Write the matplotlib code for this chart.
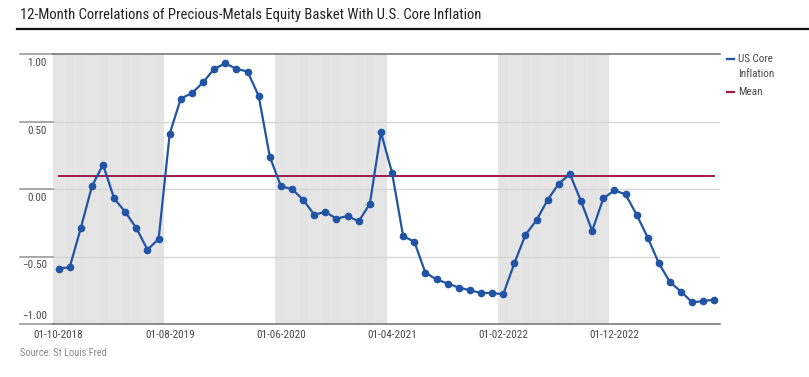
"""12-month correlations of precious-metals equity basket with US core inflation."""

import matplotlib

matplotlib.use("Agg")
import matplotlib.pyplot as plt
from matplotlib import font_manager
from matplotlib.lines import Line2D
import numpy as np

installed = {f.name for f in font_manager.fontManager.ttflist}
FONT = [f for f in ["Liberation Sans Narrow", "DejaVu Sans Condensed", "Roboto Condensed", "DejaVu Sans"]
        if f in installed] or ["DejaVu Sans"]
plt.rcParams["font.family"] = FONT
COND = "condensed" if FONT[0] == "DejaVu Sans" else "normal"

# monthly observations, Oct 2018 .. Sep 2023
corr_values = [
    -0.59, -0.58, -0.29, 0.02, 0.18, -0.07, -0.17, -0.29, -0.45, -0.37,
    0.41, 0.67, 0.71, 0.79, 0.89, 0.93, 0.89, 0.87, 0.69, 0.24,
    0.02, 0.00, -0.08, -0.19, -0.17, -0.22, -0.20, -0.24, -0.11, 0.42,
    0.12, -0.35, -0.39, -0.62, -0.67, -0.70, -0.73, -0.75, -0.77, -0.77,
    -0.78, -0.55, -0.34, -0.23, -0.08, 0.04, 0.11, -0.09, -0.31, -0.07,
    -0.01, -0.04, -0.19, -0.36, -0.55, -0.69, -0.76, -0.84, -0.83, -0.82,
]
mean_value = 0.10
tick_labels = ["01-10-2018", "01-08-2019", "01-06-2020", "01-04-2021", "01-02-2022", "01-12-2022"]
tick_step = 10
y_ticks = [1.0, 0.5, 0.0, -0.5, -1.0]
y_tick_labels = ["1.00", "0.50", "0.00", "\u22120.50", "\u22121.00"]

BLUE = "#2154a4"
RED = "#a01c48"
SHADE = "#e4e4e4"
TEXT = "#4a4a4a"

fig = plt.figure(figsize=(8.09, 3.77), dpi=100)
ax = fig.add_axes([53 / 809, 53 / 377, 667 / 809, 270 / 377])

x = np.arange(len(corr_values))
ax.set_xlim(-0.5, len(corr_values) - 0.5)
ax.set_ylim(-1.0, 1.0)

# alternating shaded bands, one per tick interval
for i in range(0, len(corr_values), 2 * tick_step):
    ax.axvspan(i - 0.5, i + tick_step - 0.5, color=SHADE, lw=0, zorder=0)
    for m in range(i, i + tick_step - 1):
        ax.axvline(m + 0.5, color="#e9e9e9", lw=0.6, zorder=0.5)

for yv in y_ticks[1:-1]:
    ax.axhline(yv, color="#d6d6d6", lw=1.0, zorder=1)

ax.plot(x, corr_values, color=BLUE, lw=1.6, marker="o", ms=4.5, zorder=3)
ax.plot([x[0], x[-1]], [mean_value, mean_value], color=RED, lw=1.4, zorder=2)

for side in ["left", "right"]:
    ax.spines[side].set_visible(False)
for side in ["top", "bottom"]:
    ax.spines[side].set_color("#7a7a7a")
    ax.spines[side].set_linewidth(1.2)

ax.set_xticks(x[::tick_step])
ax.set_xticklabels(tick_labels, fontsize=8, color=TEXT, fontstretch=COND)
ax.tick_params(axis="x", length=0, pad=4)
ax.set_yticks([])

# y ticks: long grey dashes left of the axis with labels beneath
for yv, lab in zip(y_ticks, y_tick_labels):
    ax.plot([-0.05, 0.0], [yv, yv], transform=ax.get_yaxis_transform(),
            color="#999999", lw=1.2, clip_on=False)
    off = -9 if yv > -1.0 else 8
    ax.annotate(lab, xy=(0, yv), xycoords=ax.get_yaxis_transform(),
                xytext=(-6, off), textcoords="offset pixels",
                ha="right", va="center", fontsize=8, color=TEXT, fontstretch=COND)

# title and rule
fig.text(20 / 809, 1 - 15 / 377, "12-Month Correlations of Precious-Metals Equity Basket With U.S. Core Inflation",
         ha="left", va="center", fontsize=10.5, color="#222222", fontstretch=COND)
fig.add_artist(Line2D([17 / 809, 1.0], [1 - 29 / 377] * 2, color="#111111", lw=1.6))

# legend
fig.add_artist(Line2D([727 / 809, 734 / 809], [1 - 59 / 377] * 2, color=BLUE, lw=1.6))
fig.text(738 / 809, 1 - 59 / 377, "US Core", ha="left", va="center", fontsize=8, color=TEXT,
         fontstretch=COND)
fig.text(738 / 809, 1 - 74 / 377, "Inflation", ha="left", va="center", fontsize=8, color=TEXT,
         fontstretch=COND)
fig.add_artist(Line2D([727 / 809, 734 / 809], [1 - 92 / 377] * 2, color=RED, lw=1.6))
fig.text(738 / 809, 1 - 92 / 377, "Mean", ha="left", va="center", fontsize=8, color=TEXT,
         fontstretch=COND)

fig.text(20 / 809, 1 - 353 / 377, "Source: St Louis Fred", ha="left", va="center",
         fontsize=7.5, color="#8a8a8a", fontstretch=COND)

fig.savefig("out.png", dpi=100)
plt.close(fig)
